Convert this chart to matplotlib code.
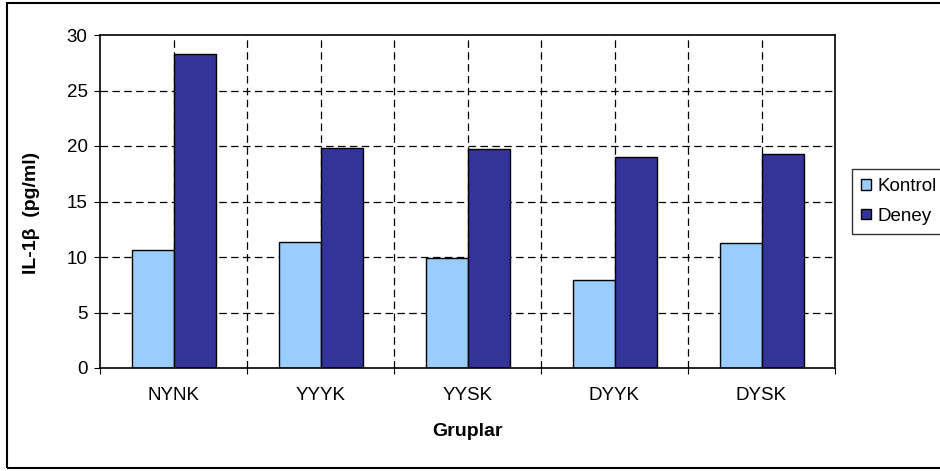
import matplotlib.pyplot as plt
import numpy as np
from matplotlib.patches import Rectangle

plt.rcParams['font.family'] = ['Liberation Sans', 'DejaVu Sans']

groups = ["NYNK", "YYYK", "YYSK", "DYYK", "DYSK"]
kontrol = [10.6, 11.35, 9.9, 7.95, 11.3]
deney = [28.3, 19.8, 19.7, 19.0, 19.3]
y_ticks = [0, 5, 10, 15, 20, 25, 30]

W, H = 940, 471
fig = plt.figure(figsize=(W / 100, H / 100), dpi=100)

# plot area in pixels: x 100..835, y 35..368
ax = fig.add_axes([100 / W, (H - 368) / H, 735 / W, 333 / H])

x = np.arange(len(groups))
bw = 1 / 3.5
ax.bar(x - bw / 2, kontrol, bw, color="#99CCFF", edgecolor="black", linewidth=1, label="Kontrol", zorder=3)
ax.bar(x + bw / 2, deney, bw, color="#333399", edgecolor="black", linewidth=1, label="Deney", zorder=3)

ax.set_xlim(-0.5, len(groups) - 0.5)
ax.set_ylim(0, 30)
ax.set_yticks(y_ticks)
ax.set_xticks(x)
ax.set_xticklabels(groups)
ax.set_xticks(np.arange(-0.5, len(groups), 1.0), minor=True)

ax.tick_params(axis="x", which="major", length=0, pad=14, labelsize=13.5)
ax.tick_params(axis="x", which="minor", length=4, direction="out", width=0.8)
ax.tick_params(axis="y", length=4, direction="out", width=0.8, pad=5, labelsize=13.5)

# dashed grid: horizontal at y ticks, vertical every half category
grid_kw = dict(color="black", linewidth=0.9, dashes=(6, 3.5), zorder=1)
for yv in y_ticks[1:-1]:
    ax.axhline(yv, **grid_kw)
for xv in np.arange(0, len(groups) - 0.5, 0.5):
    ax.axvline(xv, **grid_kw)

for s in ax.spines.values():
    s.set_linewidth(1.2)
    s.set_zorder(4)

ax.set_ylabel("IL-1β  (pg/ml)", fontsize=14, fontweight="bold")
ax.yaxis.set_label_coords((31 - 100) / 735, 0.465)
ax.yaxis.label.set_va("center")
ax.set_xlabel("Gruplar", fontsize=14, fontweight="bold")
ax.xaxis.set_label_coords(0.5, (368 - 436) / 333)
ax.xaxis.label.set_va("baseline")

leg = fig.legend(loc="upper left", bbox_to_anchor=(852 / W, 1 - 169 / H),
                 fontsize=13.5, frameon=True, fancybox=False, edgecolor="black",
                 handlelength=0.5, handleheight=0.5, handletextpad=0.35,
                 borderpad=0.5, labelspacing=0.65, borderaxespad=0)
leg.get_frame().set_linewidth(1)

# outer chart frame
fig.patches.append(Rectangle((7 / W, 3 / H), (960 - 7) / W, (468 - 3) / H,
                             transform=fig.transFigure, fill=False,
                             edgecolor="black", linewidth=1.5))

fig.savefig("out.png", dpi=100)
